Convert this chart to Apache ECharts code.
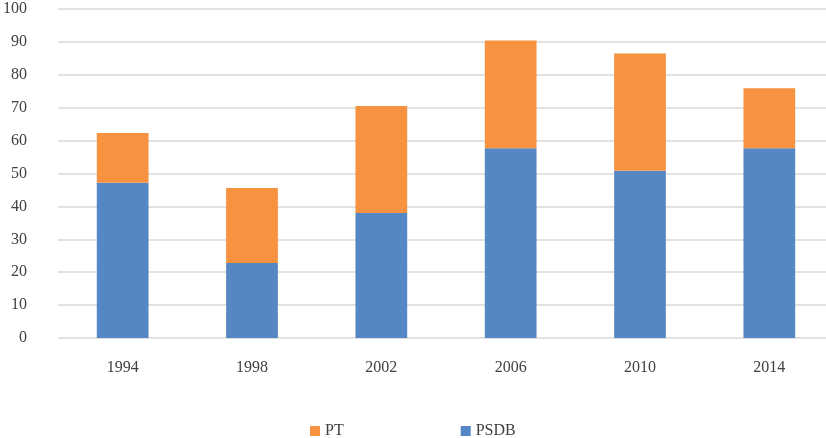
<!DOCTYPE html>
<html><head><meta charset="utf-8">
<script src="https://cdn.jsdelivr.net/npm/echarts@6/dist/echarts.min.js"></script>
<style>html,body{margin:0;padding:0;background:#fff;overflow:hidden;width:826px;height:438px}#c{width:834px;height:438px}</style>
</head><body><div id="c"></div>
<script>
const years = ['1994','1998','2002','2006','2010','2014'];
const psdb = [47.2, 22.8, 38.0, 57.7, 50.8, 57.7];
const pt = [15.1, 22.8, 32.5, 32.7, 35.7, 18.2];
const yTicks = {min: 0, max: 100, interval: 10};

const font = 'Liberation Serif';
const chart = echarts.init(document.getElementById('c'));
chart.setOption({
  animation: false,
  backgroundColor: '#fff',
  grid: {left: 58, top: 9, right: 0, bottom: 100, containLabel: false},
  legend: {
    data: ['PT', 'PSDB'], top: 418, left: 305,
    itemWidth: 10, itemHeight: 10, itemGap: 117, icon: 'rect',
    textStyle: {fontFamily: font, fontSize: 16, color: '#404040'}
  },
  xAxis: {
    type: 'category', data: years,
    axisLine: {show: false}, axisTick: {show: false},
    axisLabel: {fontFamily: font, fontSize: 16, color: '#404040', margin: 22}
  },
  yAxis: {
    type: 'value', min: yTicks.min, max: yTicks.max, interval: yTicks.interval,
    axisLine: {show: false}, axisTick: {show: false},
    splitLine: {lineStyle: {color: '#D9D9D9', width: 1.5}},
    axisLabel: {fontFamily: font, fontSize: 16, color: '#404040', margin: 31}
  },
  series: [
    {name: 'PSDB', type: 'bar', stack: 'a', data: psdb, barWidth: '40%', itemStyle: {color: '#5587C5'}},
    {name: 'PT', type: 'bar', stack: 'a', data: pt, barWidth: '40%', itemStyle: {color: '#F69240'}}
  ]
});
</script></body></html>
